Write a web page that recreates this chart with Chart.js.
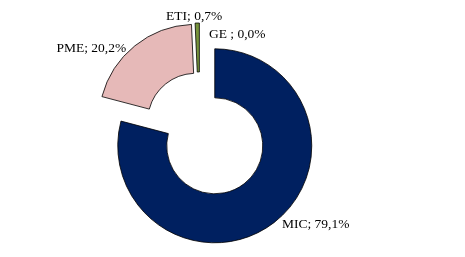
<!DOCTYPE html>
<html>
<head>
<meta charset="utf-8">
<script src="https://cdn.jsdelivr.net/npm/chart.js@4.4.1/dist/chart.umd.min.js"></script>
<style>
  html, body { margin: 0; padding: 0; background: #ffffff; }
  #wrap { width: 465px; height: 257px; }
</style>
</head>
<body>
<div id="wrap"><canvas id="c" width="465" height="257"></canvas></div>
<script>
// ---- data ----
const categories = ['MIC', 'PME', 'ETI', 'GE '];
const shares = [79.1, 20.2, 0.7, 0.0];

// ---- styles ----
const sliceColors = ['#002060', '#E6B9B8', '#77933C', '#4F81BD'];
const explodePx = [25, 6, 6, 6];
const labelNudge = [
  { align: 'left',   dx: 8,    dy: 5.5 },
  { align: 'right',  dx: -8.7, dy: 6 },
  { align: 'center', dx: -3,   dy: -3 },
  { align: 'left',   dx: 9.5,  dy: 15 }
];

const fmt = v => v.toFixed(1).replace('.', ',') + '%';

const explodePlugin = {
  id: 'explodeSlices',
  afterDatasetUpdate(chart, args) {
    const a = chart.chartArea;
    const cx = (a.left + a.right) / 2, cy = (a.top + a.bottom) / 2;
    args.meta.data.forEach((el, i) => {
      const mid = (el.startAngle + el.endAngle) / 2;
      el.x = cx + Math.cos(mid) * explodePx[i];
      el.y = cy + Math.sin(mid) * explodePx[i];
    });
  }
};

const labelPlugin = {
  id: 'sliceLabels',
  afterDatasetsDraw(chart) {
    const ctx = chart.ctx;
    const meta = chart.getDatasetMeta(0);
    ctx.save();
    ctx.font = '13.5px "Liberation Serif", "Times New Roman", serif';
    ctx.fillStyle = '#000000';
    ctx.textBaseline = 'alphabetic';
    meta.data.forEach((el, i) => {
      const mid = (el.startAngle + el.endAngle) / 2;
      const r = el.outerRadius;
      const px = el.x + Math.cos(mid) * r;
      const py = el.y + Math.sin(mid) * r;
      const L = labelNudge[i];
      ctx.textAlign = L.align;
      ctx.fillText(categories[i] + '; ' + fmt(shares[i]), px + L.dx, py + L.dy);
    });
    ctx.restore();
  }
};

new Chart(document.getElementById('c'), {
  type: 'doughnut',
  data: {
    labels: categories,
    datasets: [{
      data: shares,
      backgroundColor: sliceColors,
      borderColor: '#000000',
      borderWidth: 0.8
    }]
  },
  options: {
    responsive: false,
    animation: false,
    radius: 97,
    cutout: '49.5%',
    layout: { padding: { left: 0, right: 66, top: 0, bottom: 5 } },
    plugins: {
      legend: { display: false },
      tooltip: { enabled: false }
    }
  },
  plugins: [explodePlugin, labelPlugin]
});
</script>
</body>
</html>
